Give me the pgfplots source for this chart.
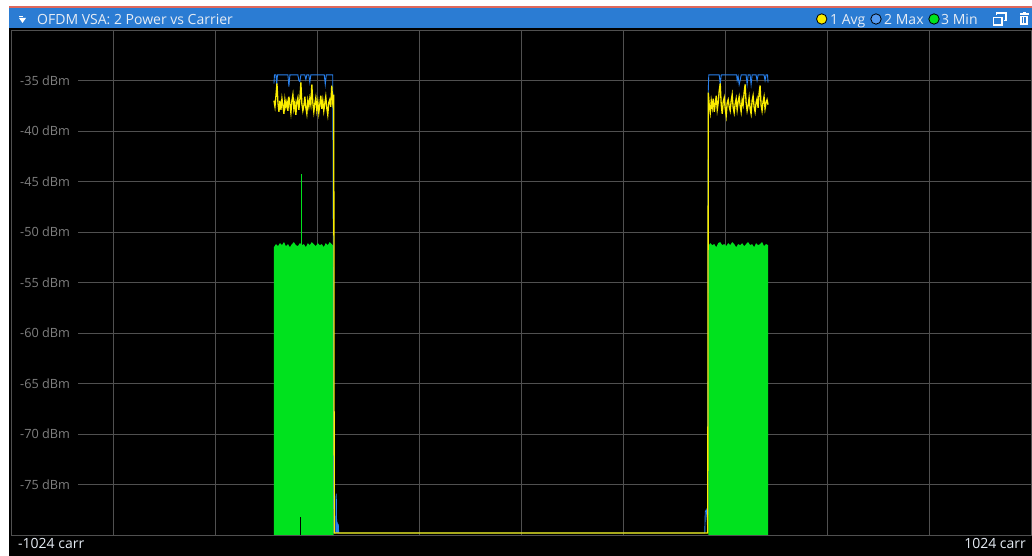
\documentclass[border=0pt]{standalone}
\usepackage{pgfplots}
\pgfplotsset{compat=1.18}
\usepackage{fontspec}
\setmainfont{Open Sans}
\definecolor{tbar}{RGB}{43,124,211}
\definecolor{redline}{RGB}{222,104,92}
\definecolor{gridc}{RGB}{80,80,80}
\definecolor{labc}{RGB}{128,128,128}
\definecolor{avgc}{RGB}{250,236,0}
\definecolor{maxc}{RGB}{40,128,236}
\definecolor{minc}{RGB}{0,226,30}
\definecolor{ttext}{RGB}{230,236,244}
\begin{document}
\begin{tikzpicture}[x=1pt,y=1pt]
\fill[white] (0,0) rectangle (1032,556);
\fill[black] (9,0) rectangle (1032,528);
\fill[tbar] (9,528) rectangle (1032,547.5);
\fill[redline] (9,547.5) rectangle (1032,550);
\begin{axis}[
  at={(11pt,21pt)}, anchor=south west, scale only axis,
  width=1020pt, height=505pt,
  xmin=-1024, xmax=1024, ymin=-80, ymax=-30,
  axis line style={gridc, line width=0.8pt},
  xtick={-819.2,-614.4,-409.6,-204.8,0,204.8,409.6,614.4,819.2},
  xticklabels={},
  ytick={-75,-70,-65,-60,-55,-50,-45,-40,-35},
  yticklabels={-75 dBm,-70 dBm,-65 dBm,-60 dBm,-55 dBm,-50 dBm,-45 dBm,-40 dBm,-35 dBm},
  grid=major, major grid style={gridc, line width=0.8pt},
  major tick length=0pt, tick style={draw=none},
  yticklabel style={anchor=west, xshift=1pt, fill=black, inner xsep=8pt, inner ysep=1pt, text=labc, font=\fontsize{12.7}{14}\selectfont},
  clip=true,
]
% Min trace (green fill)
\addplot[draw=none, fill=minc] coordinates {
(-496,-80) (-496,-51.5) (-492,-51.2) (-488,-51.4) (-484,-51.1) (-480,-51.3) (-476,-51.0) (-472,-51.4) (-468,-51.2) (-464,-51.5) (-460,-51.2) (-456,-51.0) (-452,-51.3) (-448,-51.4) (-444,-51.1) (-440,-51.3) (-436,-51.2) (-432,-51.5) (-428,-51.1) (-424,-51.3) (-420,-51.0) (-416,-51.2) (-412,-51.4) (-408,-51.1) (-404,-51.3) (-400,-51.2) (-396,-51.5) (-392,-51.1) (-388,-51.3) (-384,-51.0) (-380,-51.2) (-376,-51.4) (-376,-80)};
\addplot[draw=none, fill=minc] coordinates {
(376,-80) (376,-51.4) (380,-51.1) (384,-51.3) (388,-51.2) (392,-51.5) (396,-51.1) (400,-51.0) (404,-51.3) (408,-51.2) (412,-51.4) (416,-51.1) (420,-51.3) (424,-51.0) (428,-51.2) (432,-51.5) (436,-51.2) (440,-51.3) (444,-51.1) (448,-51.4) (452,-51.2) (456,-51.0) (460,-51.3) (464,-51.2) (468,-51.5) (472,-51.1) (476,-51.3) (480,-51.2) (484,-51.0) (488,-51.4) (492,-51.2) (496,-51.3) (496,-80)};
\addplot[minc, line width=1pt] coordinates {(-441,-51.3) (-441,-44.3)};
\addplot[black, line width=0.8pt] coordinates {(-442.5,-80) (-442.5,-78.2)};
% Max trace (blue)
\addplot[maxc, line width=0.9pt] coordinates {
(-496,-35.3) (-495,-34.45) (-492,-34.45) (-490.5,-35.4) (-489,-34.45) (-468,-34.45) (-466,-35.6) (-464,-34.45) (-448,-34.45) (-446,-35.0) (-444,-35.1) (-442,-34.45) (-434,-34.45) (-432,-34.9) (-430,-34.45) (-426,-34.45) (-424,-35.2) (-422,-34.45) (-395,-34.45) (-393,-35.4) (-391,-34.45) (-378,-34.45) (-377,-50) (-376,-79.8) (-372,-79.8) (-371,-75.9) (-370,-79.8) (-369,-78.7) (-368,-79.8) (-367,-78.9) (-366,-79.8) (369,-79.8) (370,-77.7) (372,-77.5) (374,-78.6) (375,-79.8) (376,-36.0) (377,-34.45) (398,-34.45) (400,-35.4) (402,-34.45) (433,-34.45) (434,-35.0) (436,-34.6) (438,-35.4) (440,-35.0) (442,-34.45) (452,-34.45) (454,-35.4) (456,-34.45) (460,-34.45) (462,-35.4) (464,-34.45) (472,-34.45) (474,-35.0) (476,-34.45) (488,-34.45) (490,-35.0) (492,-34.45) (495,-34.45) (496,-35.2)};
% Avg trace (yellow)
\addplot[avgc, line width=1.3pt] coordinates {
(-496,-37.0) (-494,-37.6) (-492,-36.5) (-490,-35.3) (-488,-37.2) (-486,-38.1) (-484,-37.0) (-482,-37.9) (-480,-36.8) (-478,-37.5) (-476,-38.3) (-474,-36.9) (-472,-37.6) (-470,-37.1) (-468,-38.0) (-466,-36.6) (-464,-37.4) (-462,-38.2) (-460,-37.0) (-458,-36.4) (-456,-37.8) (-454,-37.2) (-452,-38.4) (-450,-37.1) (-448,-36.7) (-446,-37.9) (-444,-36.9) (-442,-35.2) (-440,-37.3) (-438,-38.0) (-436,-37.5) (-434,-36.6) (-432,-37.7) (-430,-38.3) (-428,-37.0) (-426,-37.6) (-424,-36.8) (-422,-37.4) (-420,-35.4) (-418,-37.2) (-416,-38.1) (-414,-37.3) (-412,-36.7) (-410,-37.9) (-408,-37.1) (-406,-38.2) (-404,-37.4) (-402,-36.5) (-400,-37.8) (-398,-37.0) (-396,-38.0) (-394,-37.3) (-392,-36.6) (-390,-37.7) (-388,-38.4) (-386,-37.2) (-384,-36.9) (-382,-37.6) (-380,-35.5) (-378,-37.1) (-376,-36.4) (-375,-79.8)
(375,-79.8) (376,-36.2) (378,-37.5) (380,-38.2) (382,-37.0) (384,-37.7) (386,-36.8) (388,-38.1) (390,-37.3) (392,-36.5) (394,-37.9) (396,-37.2) (398,-36.0) (400,-35.3) (402,-37.4) (404,-38.3) (406,-37.1) (408,-36.7) (410,-37.8) (412,-38.5) (414,-37.2) (416,-36.9) (418,-37.6) (420,-38.0) (422,-37.0) (424,-36.4) (426,-37.7) (428,-38.2) (430,-37.3) (432,-36.8) (434,-37.9) (436,-37.1) (438,-36.6) (440,-37.5) (442,-38.1) (444,-36.9) (446,-37.4) (448,-36.2) (450,-35.4) (452,-37.2) (454,-38.0) (456,-37.5) (458,-36.7) (460,-37.8) (462,-38.3) (464,-37.0) (466,-36.5) (468,-37.6) (470,-38.1) (472,-37.2) (474,-36.8) (476,-37.7) (478,-36.3) (480,-35.5) (482,-37.4) (484,-38.0) (486,-37.1) (488,-36.6) (490,-37.8) (492,-37.2) (494,-36.9) (496,-37.4)};
\end{axis}
% bottom labels
\node[anchor=base west, inner sep=0, text=ttext, font=\fontsize{14}{16}\selectfont] at (18,7.5) {-1024 carr};
\node[anchor=base east, inner sep=0, text=ttext, font=\fontsize{14}{16}\selectfont] at (1026,7.5) {1024 carr};
% title bar
\fill[white] (19,538) -- (26,538) -- (22.5,533) -- cycle;
\draw[white, line width=0.8pt] (19,540) -- (23,540);
\node[anchor=base west, inner sep=0, text=ttext, font=\fontsize{14}{16}\selectfont] at (37,531.5) {OFDM VSA: 2 Power vs Carrier};
\filldraw[fill=avgc, draw=black, line width=0.8pt] (821.7,537) circle (5.2);
\node[anchor=base west, inner sep=0, text=ttext, font=\fontsize{14}{16}\selectfont] at (830,531.5) {1 Avg};
\filldraw[fill=maxc!80!white, draw=black, line width=0.8pt] (876,537) circle (5.2);
\node[anchor=base west, inner sep=0, text=ttext, font=\fontsize{14}{16}\selectfont] at (884,531.5) {2 Max};
\filldraw[fill=minc, draw=black, line width=0.8pt] (934,537) circle (5.2);
\node[anchor=base west, inner sep=0, text=ttext, font=\fontsize{14}{16}\selectfont] at (941,531.5) {3 Min};
% window icon
\draw[white, line width=1.2pt] (993.5,531) rectangle (1002,538.5);
\draw[white, line width=1.2pt] (996.5,540.5) -- (996.5,543) -- (1006,543) -- (1006,535.5) -- (1003.5,535.5);
% trash icon
\fill[white] (1019.5,541) rectangle (1028.5,542.5);
\fill[white] (1022.5,542.5) rectangle (1025.5,544);
\fill[white] (1020.3,531) rectangle (1027.7,540);
\draw[tbar, line width=0.6pt] (1022.5,532.5) -- (1022.5,538.5) (1024,532.5) -- (1024,538.5) (1025.5,532.5) -- (1025.5,538.5);
\pgfresetboundingbox
\useasboundingbox (0,0) rectangle (1032,556);
\end{tikzpicture}
\end{document}
